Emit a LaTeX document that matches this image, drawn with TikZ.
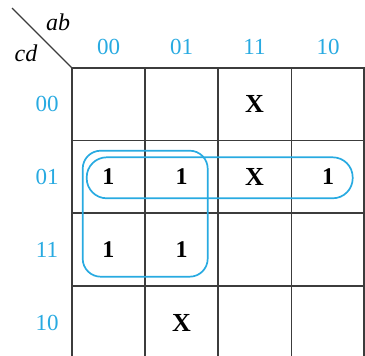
\documentclass[tikz,border=0pt]{standalone}
\usepackage{fontspec}
\setmainfont{Liberation Serif}
\definecolor{kblue}{RGB}{40,170,225}
\definecolor{kgrid}{RGB}{60,60,60}
\begin{document}
\begin{tikzpicture}[x=1pt,y=-1pt,
  gridline/.style={draw=kgrid, line width=1.3pt},
  lbl/.style={text=kblue, font=\fontsize{23}{23}\selectfont, inner sep=0pt},
  val/.style={font=\fontsize{24}{24}\selectfont\bfseries, inner sep=0pt},
  valx/.style={font=\fontsize{26}{26}\selectfont\bfseries, inner sep=0pt},
  var/.style={font=\fontsize{24}{24}\selectfont\itshape, inner sep=0pt},
  kloop/.style={draw=kblue, line width=1.7pt}]
\useasboundingbox (0,0) rectangle (365,356);
% grid
\foreach \x in {72,145,218,291.5,364}
  \draw[gridline] (\x,68) -- (\x,356);
\foreach \y in {68,140.5,213,286}
  \draw[gridline] (72,\y) -- (364.7,\y);
% diagonal
\coordinate (d0) at (12,8);
\coordinate (corner) at (72,68);
\draw[gridline, line width=1.2pt] (d0) -- (corner);
\node[var] (ab) at (58,22) {ab};
\node[var] (cd) at (26,53) {cd};
% column labels
\node[lbl] (c00) at (108.5,47) {00};
\node[lbl] (c01) at (181.5,47) {01};
\node[lbl] (c11) at (254.5,47) {11};
\node[lbl] (c10) at (328,47) {10};
% row labels
\node[lbl] (r00) at (47,104) {00};
\node[lbl] (r01) at (47,177) {01};
\node[lbl] (r11) at (47,249.5) {11};
\node[lbl] (r10) at (47,323) {10};
% values
\node[valx] (v0011) at (254.5,104) {X};
\node[val] (v0100) at (108.5,177) {1};
\node[val] (v0101) at (181.5,177) {1};
\node[valx] (v0111) at (254.5,177) {X};
\node[val] (v0110) at (328,177) {1};
\node[val] (v1100) at (108.5,249.5) {1};
\node[val] (v1101) at (181.5,249.5) {1};
\node[valx] (v1001) at (181.5,323) {X};
% loops
\draw[kloop, rounded corners=18pt] (82.7,150.7) rectangle (207.7,276.7);
\draw[kloop, rounded corners=20pt] (86.7,157.3) rectangle (352.7,198.3);
\end{tikzpicture}
\end{document}
